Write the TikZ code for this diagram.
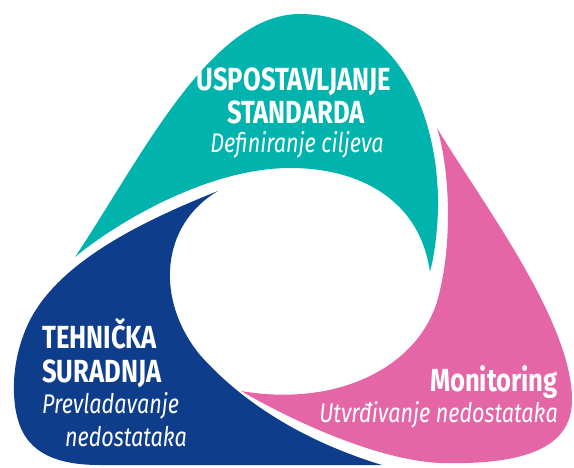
\documentclass[tikz,border=0pt]{standalone}
\usepackage{fontspec}
\setmainfont[FakeStretch=0.8]{Fira Sans}
\definecolor{tealc}{RGB}{0,180,173}
\definecolor{navyc}{RGB}{14,61,140}
\definecolor{pinkc}{RGB}{228,102,166}
\newcommand{\headtxt}[1]{{\fontsize{32}{32}\selectfont\bfseries #1}}
\newcommand{\subtxt}[1]{{\fontsize{27}{27}\selectfont\itshape #1}}
\begin{document}
\begin{tikzpicture}[x=1pt, y=-1pt, every node/.style={text=white, inner sep=0pt}]
			\useasboundingbox (0,0) rectangle (574,467);
			% teal, top
			\fill[tealc] (75,257) .. controls (140,160) and (210,14) .. (300,14)
				.. controls (400,14) and (440,120) .. (438,210)
				.. controls (437,240) and (433,260) .. (430,272)
				.. controls (420,200) and (360,168) .. (290,168)
				.. controls (210,168) and (120,220) .. (75,257) -- cycle;
			% navy, left
			\fill[navyc] (218,191) .. controls (140,222) and (60,262) .. (30,320)
				.. controls (10,360) and (12,400) .. (18,420)
				.. controls (28,455) and (60,465) .. (100,465)
				-- (382,465)
				.. controls (300,440) and (240,400) .. (200,355)
				.. controls (155,300) and (160,225) .. (218,191) -- cycle;
			% pink, right
			\fill[pinkc] (437,128) .. controls (480,200) and (572,320) .. (572,400)
				.. controls (572,450) and (520,465) .. (440,463)
				.. controls (380,460) and (300,425) .. (241,391)
				.. controls (340,408) and (425,365) .. (440,290)
				.. controls (452,240) and (450,170) .. (437,128) -- cycle;

			% labels
			\node[anchor=base] (std) at (294,90) {\headtxt{USPOSTAVLJANJE}};
			\node[anchor=base] (std2) at (296,123) {\headtxt{STANDARDA}};
			\node[anchor=base] (stdsub) at (297,152) {\subtxt{Definiranje ciljeva}};

			\node[anchor=base west] (teh) at (42,348) {\headtxt{TEHNIČKA}};
			\node[anchor=base west] (teh2) at (42,382) {\headtxt{SURADNJA}};
			\node[anchor=base west] (tehsub) at (42,413) {\subtxt{Prevladavanje}};
			\node[anchor=base west] (tehsub2) at (65,446) {\subtxt{nedostataka}};

			\node[anchor=base east] (mon) at (558,391) {\headtxt{Monitoring}};
			\node[anchor=base east] (monsub) at (558,422) {\subtxt{Utvrđivanje nedostataka}};
\end{tikzpicture}
\end{document}
